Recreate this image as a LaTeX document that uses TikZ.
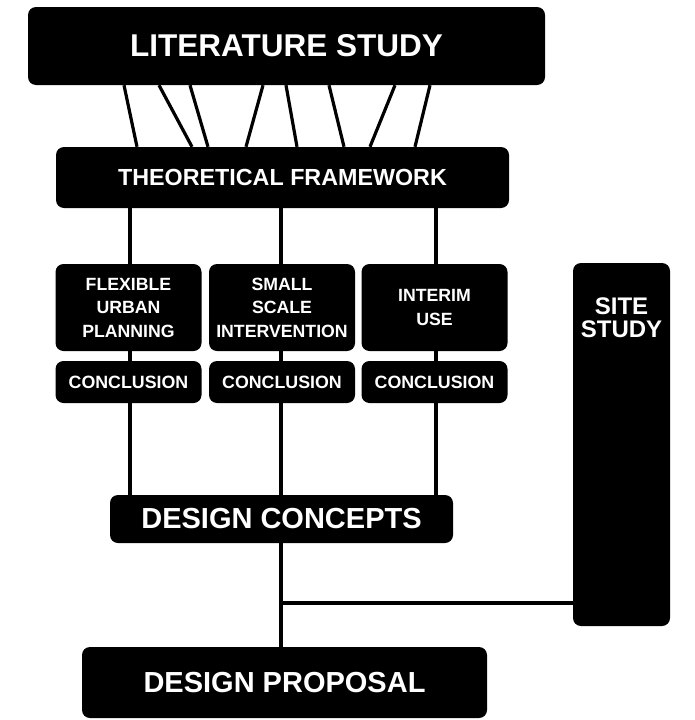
\documentclass[tikz,border=0pt]{standalone}
\usepackage{fontspec}
\setmainfont{Liberation Sans}
\begin{document}
\begin{tikzpicture}[x={(1pt,0)}, y={(0,-1pt)},
  blk/.style={draw=none, fill=black, rounded corners=8pt, text=white,
    font=\bfseries, inner sep=0pt, align=center},
  lnk/.style={line width=3.2pt, line cap=butt}]
\useasboundingbox (0,0) rectangle (694,720);

% boxes
\node[blk, minimum width=517pt, minimum height=78pt,
  font=\bfseries\fontsize{31.5}{36}\selectfont] (lit) at (286.5,46) {LITERATURE STUDY};
\node[blk, minimum width=453pt, minimum height=61pt,
  font=\bfseries\fontsize{23.3}{26}\selectfont] (tf) at (282.5,177.5) {THEORETICAL FRAMEWORK};

\tikzset{topic/.style={blk, minimum width=146pt, minimum height=87pt,
  font=\bfseries\fontsize{17.7}{23.5}\selectfont},
  concl/.style={blk, minimum width=146pt, minimum height=42pt,
  font=\bfseries\fontsize{17.8}{20}\selectfont}}
\node[topic] (flex) at (128.5,307.5) {FLEXIBLE\\URBAN\\PLANNING};
\node[topic] (small) at (282,307.5) {SMALL\\SCALE\\INTERVENTION};
\node[topic] (interim) at (434.5,307.5) {INTERIM\\USE};
\node[concl] (c1) at (128.5,382) {CONCLUSION};
\node[concl] (c2) at (282,382) {CONCLUSION};
\node[concl] (c3) at (434.5,382) {CONCLUSION};

\node[blk, minimum width=343pt, minimum height=48pt,
  font=\bfseries\fontsize{29}{32}\selectfont] (dc) at (281.5,519) {DESIGN CONCEPTS};
\node[blk, minimum width=405pt, minimum height=71pt,
  font=\bfseries\fontsize{29}{32}\selectfont] (dp) at (284.5,682.5) {DESIGN PROPOSAL};
\node[blk, minimum width=97pt, minimum height=363pt] (site) at (621.5,444.5) {};
\node[text=white, font=\bfseries\fontsize{24}{23}\selectfont, align=center,
  inner sep=0pt] (sitelbl) at (621.5,318) {SITE\\STUDY};

% literature study to theoretical framework
\foreach \a/\b in {124/137, 159/192, 190/208, 263/246, 286/297, 329/344, 395/370, 430/415}
  \draw[lnk] (lit.south -| \a,0) -- (tf.north -| \b,0);

% the three themes
\foreach \x/\t/\c in {130/flex/c1, 281/small/c2, 436/interim/c3} {
  \draw[lnk] (tf.south -| \x,0) -- (\t.north -| \x,0);
  \draw[lnk] (\t.south -| \x,0) -- (\c.north -| \x,0);
  \draw[lnk] (\c.south -| \x,0) -- (dc.north -| \x,0);
}

% concepts, site study and proposal
\draw[lnk] (dc.south -| 281,0) -- (dp.north -| 281,0);
\coordinate (j) at (281,603);
\draw[lnk] (j) -- (j -| site.west);
\end{tikzpicture}
\end{document}
